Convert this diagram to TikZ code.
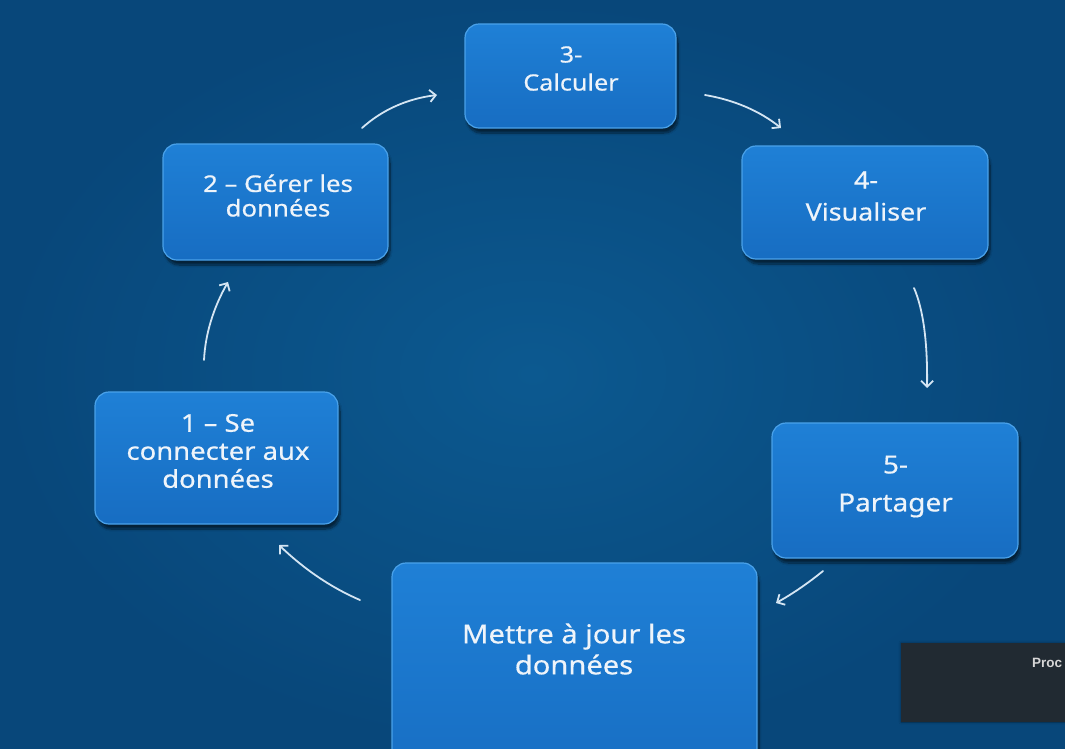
\documentclass[tikz,border=0pt]{standalone}
\usepackage{fontspec}
\setmainfont{Noto Sans}[FakeStretch=1.12,FakeBold=0.5]
\newfontfamily\procfont{Liberation Sans}
\usetikzlibrary{arrows.meta,shadows.blur}
\definecolor{bgin}{HTML}{0C5990}
\definecolor{bgout}{HTML}{08477A}
\definecolor{boxtop}{HTML}{1F80D6}
\definecolor{boxbot}{HTML}{176DC2}
\definecolor{rimblue}{HTML}{4AA2EA}
\definecolor{txtw}{HTML}{EEF4FA}
\definecolor{arrw}{HTML}{D4E5F3}
\definecolor{darkbox}{HTML}{212A32}
\definecolor{proct}{HTML}{D6D6D6}
\begin{document}
\begin{tikzpicture}[x=1pt,y=-1pt,
  stepbox/.style={rounded corners=14pt, draw=rimblue, line width=1.2pt,
    top color=boxtop, bottom color=boxbot, inner sep=0pt,
    blur shadow={shadow xshift=2pt, shadow yshift=-5pt, shadow opacity=55, shadow blur steps=12}},
  steptext/.style={text=txtw, align=center, inner sep=0pt},
  cyc/.style={draw=arrw, line width=1.8pt, line cap=round,
    -{Straight Barb[length=6pt,width=12pt,line width=1.8pt]}}]
\useasboundingbox (0,0) rectangle (1065,748);
\clip (0,0) rectangle (1065,748);
\shade[inner color=bgin, outer color=bgout] (0,0) rectangle (1065,748);

% boxes
\node[stepbox, minimum width=243pt, minimum height=132pt] (b1) at (216.5,458) {};
\node[stepbox, minimum width=225pt, minimum height=116pt] (b2) at (275.5,202) {};
\node[stepbox, minimum width=211pt, minimum height=104pt] (b3) at (570.5,76) {};
\node[stepbox, minimum width=246pt, minimum height=113pt] (b4) at (865,202.5) {};
\node[stepbox, minimum width=246pt, minimum height=135pt] (b5) at (895,490.5) {};
\node[stepbox, minimum width=365pt, minimum height=227pt] (b6) at (574.5,676.5) {};

% texts
\node[steptext, font=\fontsize{24.5}{28}\selectfont] (t1) at (218,451) {1 – Se\\connecter aux\\données};
\node[steptext, font=\fontsize{23}{24.5}\selectfont] (t2) at (278,195.5) {2 – Gérer les\\données};
\node[steptext, font=\fontsize{22.5}{28}\selectfont] (t3) at (571,68.5) {3-\\Calculer};
\node[steptext, font=\fontsize{24}{32}\selectfont] (t4) at (866,196) {4-\\Visualiser};
\node[steptext, font=\fontsize{25}{38}\selectfont] (t5) at (895.5,486.5) {5-\\Partager};
\node[steptext, font=\fontsize{26}{31}\selectfont] (t6) at (574,649) {Mettre à jour les\\données};

% arrows
\coordinate (a1s) at (204,360); \coordinate (a1e) at (228,282);
\coordinate (a2s) at (362,128); \coordinate (a2e) at (437,95);
\coordinate (a3s) at (705,95);  \coordinate (a3e) at (781,128);
\coordinate (a4s) at (914,288); \coordinate (a4e) at (927,388);
\coordinate (a5s) at (823,571); \coordinate (a5e) at (776,603);
\coordinate (a6s) at (360,600); \coordinate (a6e) at (279,545);
\draw[cyc] (a1s) .. controls (205.3,334) and (213.3,308) .. (a1e);
\draw[cyc] (a2s) .. controls (382.3,109.7) and (407.3,98.7) .. (a2e);
\draw[cyc] (a3s) .. controls (734.3,100) and (759.7,111) .. (a3e);
\draw[cyc] (a4s) .. controls (923.3,309.3) and (927.7,342.7) .. (a4e);
\draw[cyc] (a5s) .. controls (808.3,583) and (792.7,593.7) .. (a5e);
\draw[cyc] (a6s) .. controls (331.3,587.7) and (304.3,569.3) .. (a6e);

% dark overlay box
\node[fill=darkbox, draw=none, minimum width=170pt, minimum height=79pt, inner sep=0pt,
  blur shadow={shadow xshift=0pt, shadow yshift=0pt, shadow opacity=40, shadow blur steps=8}]
  (pb) at (986,682.5) {};
\node[anchor=west, text=proct, font=\procfont\bfseries\fontsize{13.5}{15}\selectfont, inner sep=0pt]
  (pt) at (1032,663) {Proc};
\end{tikzpicture}
\end{document}
